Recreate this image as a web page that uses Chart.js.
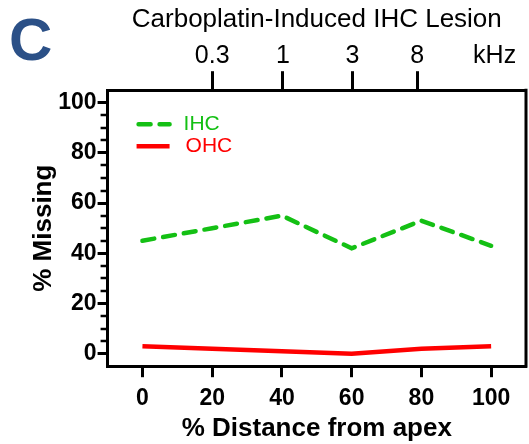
<!DOCTYPE html>
<html><head><meta charset="utf-8">
<script src="https://cdn.jsdelivr.net/npm/chart.js@4.4.0/dist/chart.umd.min.js"></script>
<style>html,body{margin:0;padding:0;background:#fff;}#wrap{width:529px;height:444px;}</style>
</head><body><div id="wrap"><canvas id="c"></canvas></div>
<script>
const distances = [0, 20, 40, 60, 80, 100];
const ihcMissing = [45, 50, 55, 42, 53, 43];
const ohcMissing = [3, 2, 1, 0, 2, 3];
const xTicks = [0, 20, 40, 60, 80, 100];
const yTicks = [0, 20, 40, 60, 80, 100];
const yMinorTicks = [5, 10, 15, 25, 30, 35, 45, 50, 55, 65, 70, 75, 85, 90, 95];
const freqPositions = [20, 40.3, 60.2, 78.8, 101];
const freqLabels = ['0.3', '1', '3', '8', 'kHz'];
const seriesNames = ['IHC', 'OHC'];
const panelLetter = 'C';
const titleText = 'Carboplatin-Induced IHC Lesion';

const FONT = "'Liberation Sans', Arial, sans-serif";
const GREEN = '#14c014';
const RED = '#ff0000';

const extras = {
  id: 'extras',
  afterDraw(chart) {
    const ctx = chart.ctx, ca = chart.chartArea, y = chart.scales.y;
    ctx.save();
    ctx.strokeStyle = '#000'; ctx.lineWidth = 2.5;
    yMinorTicks.forEach(v => {
      const py = Math.round(y.getPixelForValue(v));
      ctx.beginPath(); ctx.moveTo(ca.left - 7, py); ctx.lineTo(ca.left, py); ctx.stroke();
    });
    ctx.lineWidth = 3;
    ctx.beginPath(); ctx.moveTo(ca.right, ca.top - 1.5); ctx.lineTo(ca.right, ca.bottom + 1.5); ctx.stroke();
    ctx.fillStyle = '#2b5087';
    ctx.font = "bold 60px " + FONT;
    ctx.textBaseline = 'alphabetic'; ctx.textAlign = 'left';
    ctx.fillText(panelLetter, 9, 60);
    ctx.font = "21px " + FONT;
    ctx.textBaseline = 'middle';
    chart.data.datasets.forEach((ds, i) => {
      const ly = ca.top + 34 + i * 22;
      const lx = ca.left + 29;
      ctx.strokeStyle = ds.borderColor; ctx.lineWidth = 4.5;
      ctx.lineCap = ds.borderCapStyle || 'butt';
      ctx.setLineDash(ds.borderDash || []);
      ctx.beginPath(); ctx.moveTo(lx + (i === 0 ? 2 : 0), ly); ctx.lineTo(lx + 33, ly); ctx.stroke();
      ctx.setLineDash([]);
      ctx.fillStyle = ds.borderColor;
      ctx.fillText(ds.label, lx + 47 + (i === 1 ? 2 : 0), ly);
    });
    ctx.restore();
  }
};

new Chart(document.getElementById('c'), {
  type: 'line',
  data: {
    datasets: [
      { label: seriesNames[0], data: distances.map((d, i) => ({x: d, y: ihcMissing[i]})),
        borderColor: GREEN, borderWidth: 4.5, borderDash: [12, 9], borderCapStyle: 'round',
        pointRadius: 0, tension: 0, fill: false },
      { label: seriesNames[1], data: distances.map((d, i) => ({x: d, y: ohcMissing[i]})),
        borderColor: RED, borderWidth: 4.5, pointRadius: 0, tension: 0, fill: false }
    ]
  },
  options: {
    responsive: true, maintainAspectRatio: false, animation: false,
    layout: { padding: { left: 28, right: 3, top: 2, bottom: 0 } },
    plugins: {
      legend: { display: false },
      tooltip: { enabled: false },
      title: { display: true, text: titleText, color: '#000', fullSize: false,
        font: { family: FONT, size: 26, weight: 'normal' }, padding: { top: 2, bottom: 6 } }
    },
    scales: {
      x: {
        type: 'linear', position: 'bottom', min: -10, max: 110,
        afterBuildTicks: s => { s.ticks = xTicks.map(v => ({value: v})); },
        grid: { drawOnChartArea: false, tickLength: 11, tickWidth: 3, tickColor: '#000' },
        border: { color: '#000', width: 3 },
        ticks: { color: '#000', font: { family: FONT, size: 23, weight: 'bold' }, padding: 8, maxRotation: 0 },
        title: { display: true, text: '% Distance from apex', color: '#000',
          font: { family: FONT, size: 26, weight: 'bold' }, padding: { top: -8, bottom: 0 } }
      },
      x2: {
        type: 'linear', position: 'top', min: -10, max: 110,
        afterBuildTicks: s => { s.ticks = freqPositions.map(v => ({value: v})); },
        grid: { drawOnChartArea: false, tickLength: 19, tickWidth: 3,
          tickColor: c => (c.index === freqLabels.length - 1 ? 'rgba(0,0,0,0)' : '#000') },
        border: { color: '#000', width: 3 },
        ticks: { color: '#000', font: { family: FONT, size: 25, weight: 'normal' }, padding: 0, maxRotation: 0,
          autoSkip: false, callback: (v, i) => freqLabels[i] }
      },
      y: {
        type: 'linear', position: 'left', min: -5, max: 105,
        afterBuildTicks: s => { s.ticks = yTicks.map(v => ({value: v})); },
        grid: { drawOnChartArea: false, tickLength: 10, tickWidth: 3, tickColor: '#000' },
        border: { color: '#000', width: 3 },
        ticks: { color: '#000', font: { family: FONT, size: 23, weight: 'bold' }, padding: 1 },
        title: { display: true, text: '% Missing', color: '#000',
          font: { family: FONT, size: 26, weight: 'bold' }, padding: { top: 0, bottom: -2 } }
      }
    }
  },
  plugins: [extras]
});
</script>
</body></html>
